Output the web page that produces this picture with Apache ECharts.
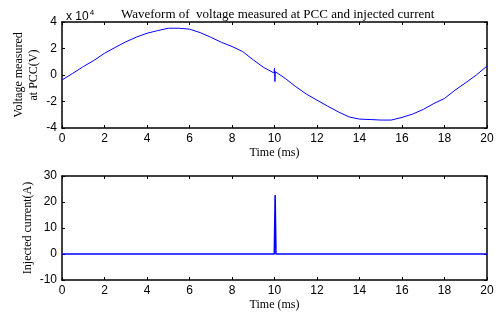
<!DOCTYPE html>
<html lang="en">
<head>
    <meta charset="UTF-8">
    <title>Waveform</title>
    <script type="text/javascript" src="https://cdn.jsdelivr.net/npm/echarts@6/dist/echarts.min.js"></script>
    <style>
        html, body { margin: 0; padding: 0; background: #fff; }
        #chart { width: 499px; height: 315px; }
    </style>
</head>
<body>
<div id="chart"></div>
<script>
    // voltage at PCC, time in ms, value in V
    var voltTime = [0, 0.5, 1, 1.5, 2, 2.5, 3, 3.5, 4, 4.5, 5, 5.5, 6, 6.5, 7, 7.5, 8, 8.5, 9, 9.5,
        9.98, 10, 10.02, 10.04, 10.5, 11, 11.5, 12, 12.5, 13, 13.5, 14, 14.5, 15, 15.5, 16, 16.5,
        17, 17.5, 18, 18.5, 19, 19.5, 20];
    var voltValue = [-3800, 1200, 6300, 11000, 16400, 20800, 25000, 28600, 31500, 33500, 35300, 35300,
        34600, 32000, 28500, 24700, 21500, 17700, 11400, 5600,
        1500, 5000, -5000, 2500, -2500, -8800, -14400, -19000, -23500, -27800, -31600, -33300,
        -33600, -34000, -34000, -32000, -29500, -26000, -21500, -17700, -11400, -5800, 0, 6800];

    // injected current, time in ms, value in A
    var curTime = [0, 9.99, 10.03, 10.07, 20];
    var curValue = [0, 0, 22.7, 0, 0];

    var serif = 'Liberation Serif';
    var sans = 'Liberation Sans';

    function zip(a, b) {
        var out = [];
        for (var i = 0; i < a.length; i++) out.push([a[i], b[i]]);
        return out;
    }

    var axisLine = { show: true, onZero: false, lineStyle: { color: '#000', width: 1.5 } };
    var tick = { show: true, inside: true, length: 3, lineStyle: { color: '#000' } };
    var tickLabel = { color: '#000', fontFamily: sans, fontSize: 12, margin: 5 };

    function xAx(grid, bottom) {
        var ax = {
            type: 'value', gridIndex: grid, min: 0, max: 20, interval: 2,
            position: bottom ? 'bottom' : 'top',
            axisLine: axisLine, axisTick: tick, splitLine: { show: false },
            axisLabel: bottom ? tickLabel : { show: false }
        };
        if (bottom) {
            ax.name = 'Time (ms)';
            ax.nameLocation = 'middle';
            ax.nameGap = 19;
            ax.nameMoveOverlap = false;
            ax.nameTextStyle = { color: '#000', fontFamily: serif, fontSize: 12 };
        }
        return ax;
    }

    function yAx(grid, left, min, max, interval, name, gap, fmt) {
        var ax = {
            type: 'value', gridIndex: grid, min: min, max: max, interval: interval,
            position: left ? 'left' : 'right',
            axisLine: axisLine, axisTick: tick, splitLine: { show: false },
            axisLabel: left ? Object.assign({ formatter: fmt }, tickLabel) : { show: false }
        };
        if (left) {
            ax.name = name;
            ax.nameLocation = 'middle';
            ax.nameGap = gap;
            ax.nameRotate = 90;
            ax.nameMoveOverlap = false;
            ax.nameTextStyle = { color: '#000', fontFamily: serif, fontSize: 12, lineHeight: 15 };
        }
        return ax;
    }

    var chart = echarts.init(document.getElementById('chart'));
    chart.setOption({
        animation: false,
        title: [{
            text: 'Waveform of  voltage measured at PCC and injected current',
            left: 116, top: 3,
            textStyle: { color: '#000', fontFamily: serif, fontSize: 13, fontWeight: 'normal' }
        }, {
            text: 'x 10{sup|4}',
            left: 61, top: 4,
            textStyle: {
                color: '#000', fontFamily: sans, fontSize: 12, fontWeight: 'normal',
                rich: { sup: { fontFamily: sans, fontSize: 8, verticalAlign: 'top', padding: [0, 0, 8, 1] } }
            }
        }],
        grid: [
            { left: 62, top: 22, width: 425, height: 106, outerBoundsMode: 'none' },
            { left: 62, top: 176, width: 425, height: 104, outerBoundsMode: 'none' }
        ],
        xAxis: [xAx(0, true), xAx(0, false), xAx(1, true), xAx(1, false)],
        yAxis: [
            yAx(0, true, -40000, 40000, 20000, 'Voltage measured\nat PCC(V)', 21, function (v) { return v / 10000; }),
            yAx(0, false, -40000, 40000, 20000),
            yAx(1, true, -10, 30, 10, 'Injected current(A)', 27),
            yAx(1, false, -10, 30, 10)
        ],
        series: [{
            type: 'line', xAxisIndex: 0, yAxisIndex: 0, symbol: 'none',
            lineStyle: { color: '#0000ff', width: 1 },
            data: zip(voltTime, voltValue)
        }, {
            type: 'line', xAxisIndex: 2, yAxisIndex: 2, symbol: 'none',
            lineStyle: { color: '#0000ff', width: 1.5 },
            data: zip(curTime, curValue)
        }]
    });
</script>
</body>
</html>
